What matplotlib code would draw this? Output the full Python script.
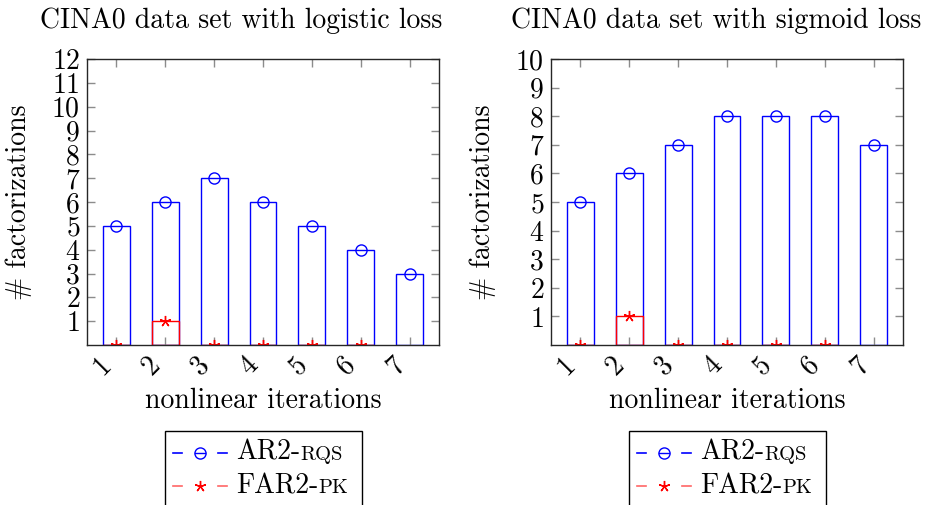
import matplotlib
matplotlib.use("Agg")
import matplotlib.pyplot as plt
from matplotlib.lines import Line2D
from matplotlib.patches import Rectangle

plt.rcParams['font.family'] = 'serif'
plt.rcParams['font.serif'] = ['cmr10']
plt.rcParams['axes.formatter.use_mathtext'] = True

iterations = [1, 2, 3, 4, 5, 6, 7]
pk_iterations = [1, 2, 3, 4, 5, 6]

logistic_rqs = [5, 6, 7, 6, 5, 4, 3]
logistic_pk = [0, 1, 0, 0, 0, 0]
sigmoid_rqs = [5, 6, 7, 8, 8, 8, 7]
sigmoid_pk = [0, 1, 0, 0, 0, 0]

titles = ["CINA0 data set with logistic loss", "CINA0 data set with sigmoid loss"]
ymax = [12, 10]
legend_names = [("AR2-", "RQS"), ("FAR2-", "PK")]

W, H = 926, 505
FS = 20
BLUE = (0, 0, 1)
RED = (1, 0, 0)
STAR = (5, 2, 0)

fig = plt.figure(figsize=(W / 100, H / 100), dpi=100)
renderer = fig.canvas.get_renderer()


def fx(x):
    return x / W


def fy(y):
    return 1 - y / H


def draw(ax, rqs, pk, top):
    ax.bar(iterations, rqs, width=0.55, facecolor='none', edgecolor=BLUE, lw=1)
    ax.bar(pk_iterations, pk, width=0.55, facecolor='none', edgecolor=RED, lw=1)
    ax.plot(iterations, rqs, ls='none', marker='o', mfc='none', mec=BLUE, ms=8, mew=1)
    ax.plot(pk_iterations, pk, ls='none', marker=STAR, color=RED, ms=8, mew=1)

    ax.set_xlim(0.4, 7.6)
    ax.set_ylim(0, top)
    ax.set_xticks(iterations)
    ax.set_xticklabels([str(i) for i in iterations], rotation=45, ha='right')
    ax.set_yticks(range(1, top + 1))
    ax.tick_params(direction='in', top=True, right=True, length=6, width=1,
                   color='0.55', labelsize=FS, pad=5)
    for s in ax.spines.values():
        s.set_color('0.15')
        s.set_linewidth(1)

    ax.set_xlabel("nonlinear iterations", fontsize=FS)
    ax.set_ylabel("# factorizations", fontsize=FS)
    ax.xaxis.set_label_coords(0.5, -0.15)
    ax.yaxis.set_label_coords(-0.155, 0.5)


def legend(cx):
    # frame (runs off the bottom edge like the original)
    fig.add_artist(Rectangle((fx(cx - 98), fy(520)), fx(197), 89 / H,
                             transform=fig.transFigure, facecolor='white',
                             edgecolor='black', lw=1, clip_on=False))
    rows = [(BLUE, 'o', 453, 460), (RED, STAR, 486, 493)]
    for (color, marker, ym, yb), (head, tail) in zip(rows, legend_names):
        dash_color = color if marker == 'o' else (1, 0.4, 0.4)
        for x0, x1 in [(cx - 90, cx - 81), (cx - 45, cx - 36)]:
            fig.add_artist(Line2D([fx(x0), fx(x1)], [fy(ym), fy(ym)],
                                  transform=fig.transFigure, color=dash_color, lw=1.2))
        if marker == 'o':
            fig.add_artist(Line2D([fx(cx - 68), fx(cx - 58)], [fy(ym), fy(ym)],
                                  transform=fig.transFigure, color=color, lw=1))
            fig.add_artist(Line2D([fx(cx - 63)], [fy(ym)], transform=fig.transFigure,
                                  ls='none', marker='o', ms=8, mew=1, mfc='none', mec=color))
        else:
            fig.add_artist(Line2D([fx(cx - 63)], [fy(ym)], transform=fig.transFigure,
                                  ls='none', marker=STAR, ms=8, mew=1, color=color))
        t = fig.text(fx(cx - 27), fy(yb), head, fontsize=FS, va='baseline')
        bb = t.get_window_extent(renderer)
        fig.text(bb.x1 / W, fy(yb), tail, fontsize=FS * 0.74, va='baseline')


ax1 = fig.add_axes([fx(87), fy(345), fx(352), 286 / H])
ax2 = fig.add_axes([fx(551), fy(345), fx(352), 286 / H])

draw(ax1, logistic_rqs, logistic_pk, ymax[0])
draw(ax2, sigmoid_rqs, sigmoid_pk, ymax[1])

fig.text(fx(241), fy(28), titles[0], fontsize=FS, ha='center', va='baseline')
fig.text(fx(921), fy(28), titles[1], fontsize=FS, ha='right', va='baseline')

legend(263)
legend(727)

fig.savefig("out.png", dpi=100)
